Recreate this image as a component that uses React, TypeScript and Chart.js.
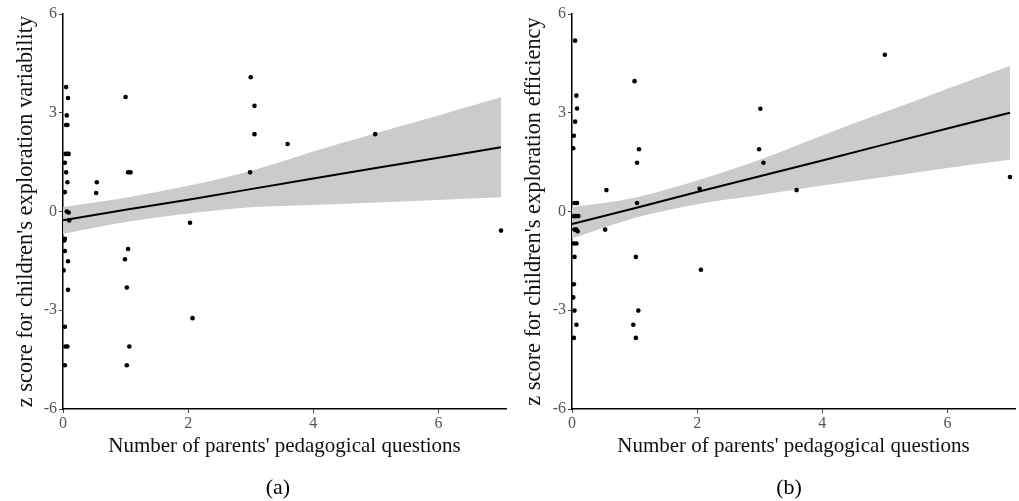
import React, { useEffect, useRef } from "react";
import { Chart, registerables } from "chart.js";

Chart.register(...registerables);

// ---- Panel (a): exploration variability ----
const xA = [0.05, 0.08, 0.06, 0.05, 0.07, 0.04, 0.07, 0.09, 0.03, 0.05, 0.07, 0.03, 0.06, 0.09, 0.1, 0.03, 0.02, 0.03, 0.08, 0.01, 0.08, 0.03, 0.04, 0.07, 0.03,
  0.54, 0.53, 1.0, 1.04, 1.08, 1.04, 0.99, 1.02, 1.06, 1.02, 2.03, 2.07, 3.0, 3.06, 3.06, 2.99, 3.59, 4.99, 7.0];
const yA = [3.78, 3.45, 2.92, 2.63, 2.63, 1.75, 1.75, 1.75, 1.48, 1.19, 0.89, 0.59, 0.0, -0.03, -0.27, -0.83, -0.88, -1.2, -1.51, -1.79, -2.38, -3.5, -4.1, -4.1, -4.67,
  0.89, 0.56, 3.48, 1.19, 1.19, -1.14, -1.45, -2.31, -4.1, -4.67, -0.34, -3.24, 4.08, 3.21, 2.35, 1.19, 2.05, 2.35, -0.58];
const fitX = [0, 1, 2, 3, 4, 5, 6, 7];
const fitA = [-0.27, 0.05, 0.36, 0.68, 1.0, 1.32, 1.63, 1.95];
const upperA = [0.14, 0.42, 0.78, 1.23, 1.82, 2.38, 2.92, 3.47];
const lowerA = [-0.68, -0.32, -0.06, 0.13, 0.2, 0.27, 0.35, 0.43];

// ---- Panel (b): exploration efficiency ----
const xB = [0.05, 0.07, 0.08, 0.05, 0.03, 0.02, 0.04, 0.08, 0.03, 0.06, 0.1, 0.04, 0.07, 0.09, 0.03, 0.07, 0.04, 0.03, 0.02, 0.04, 0.07, 0.03,
  0.55, 0.53, 1.0, 1.07, 1.04, 1.04, 1.02, 1.06, 0.98, 1.02, 2.04, 2.06, 3.01, 2.99, 3.06, 3.59, 5.0, 7.0];
const yB = [5.19, 3.52, 3.13, 2.73, 2.3, 1.92, 0.26, 0.26, -0.14, -0.14, -0.14, -0.55, -0.55, -0.6, -0.97, -0.97, -1.38, -2.21, -2.61, -3.01, -3.44, -3.84,
  0.65, -0.55, 3.96, 1.89, 1.48, 0.26, -1.38, -3.01, -3.44, -3.84, 0.69, -1.77, 3.12, 1.89, 1.48, 0.65, 4.76, 1.05];
const fitB = [-0.38, 0.1, 0.59, 1.07, 1.55, 2.04, 2.52, 3.0];
const upperB = [0.13, 0.42, 0.94, 1.57, 2.31, 3.02, 3.73, 4.42];
const lowerB = [-0.82, -0.2, 0.22, 0.5, 0.79, 1.05, 1.32, 1.57];

const yTicks = [-6, -3, 0, 3, 6];
const xTicks = [0, 2, 4, 6];
const xTitle = "Number of parents' pedagogical questions";

const SERIF = "'Liberation Serif', 'Times New Roman', serif";

type PanelProps = {
  xs: number[];
  ys: number[];
  fit: number[];
  upper: number[];
  lower: number[];
  yTitle: string;
  width: number;
  yAxisWidth: number;
};

function Panel({ xs, ys, fit, upper, lower, yTitle, width, yAxisWidth }: PanelProps) {
  const ref = useRef<HTMLCanvasElement | null>(null);
  useEffect(() => {
    if (!ref.current) return;
    const pts = xs.map((x, i) => ({ x, y: ys[i] }));
    const toXY = (arr: number[]) => fitX.map((x, i) => ({ x, y: arr[i] }));
    const chart = new Chart(ref.current, {
      type: "scatter",
      data: {
        datasets: [
          {
            data: pts,
            backgroundColor: "#000",
            borderColor: "#000",
            pointRadius: 2.3,
            pointBorderWidth: 0,
            showLine: false,
          },
          {
            type: "line",
            data: toXY(fit),
            borderColor: "#000",
            borderWidth: 2,
            pointRadius: 0,
            fill: false,
          },
          {
            type: "line",
            data: toXY(upper),
            borderWidth: 0,
            borderColor: "rgba(0,0,0,0)",
            backgroundColor: "#cbcbcb",
            pointRadius: 0,
            fill: "+1",
            cubicInterpolationMode: "monotone",
          },
          {
            type: "line",
            data: toXY(lower),
            borderWidth: 0,
            borderColor: "rgba(0,0,0,0)",
            backgroundColor: "#cbcbcb",
            pointRadius: 0,
            fill: false,
            cubicInterpolationMode: "monotone",
          },
        ] as any,
      },
      options: {
        responsive: false,
        animation: false,
        events: [],
        layout: { padding: { left: 0, right: 3, top: 14, bottom: 0 } },
        plugins: {
          legend: { display: false },
          tooltip: { enabled: false },
          title: { display: false },
        },
        scales: {
          x: {
            type: "linear",
            min: 0,
            max: 7.08,
            afterBuildTicks: (s: any) => {
              s.ticks = xTicks.map((v) => ({ value: v }));
            },
            afterFit: (s: any) => {
              s.height = 92;
            },
            ticks: {
              color: "#555",
              font: { family: SERIF, size: 16 },
              padding: 1,
              maxRotation: 0,
            },
            grid: { drawOnChartArea: false, tickLength: 4, color: "#444", lineWidth: 1 },
            border: { display: true, color: "#000", width: 1.5 },
            title: {
              display: true,
              text: xTitle,
              color: "#111",
              font: { family: SERIF, size: 21 },
              padding: { top: 0, bottom: 42 },
            },
          },
          y: {
            type: "linear",
            min: -6,
            max: 6,
            afterBuildTicks: (s: any) => {
              s.ticks = yTicks.map((v) => ({ value: v }));
            },
            afterFit: (s: any) => {
              s.width = yAxisWidth;
            },
            ticks: {
              color: "#555",
              font: { family: SERIF, size: 16 },
              padding: 2,
            },
            grid: { drawOnChartArea: false, tickLength: 4, color: "#444", lineWidth: 1 },
            border: { display: true, color: "#000", width: 1.5 },
            title: {
              display: true,
              text: yTitle,
              color: "#111",
              font: { family: SERIF, size: 22.4 },
              padding: { top: 12.5, bottom: 0 },
            },
          },
        },
      } as any,
    });
    return () => chart.destroy();
  }, []);
  return <canvas ref={ref} width={width} height={501} style={{ display: "block", width, height: 501 }} />;
}

const labelStyle = (cx: number): React.CSSProperties => ({
  position: "absolute",
  left: cx - 40,
  width: 80,
  top: 474,
  textAlign: "center",
  fontFamily: SERIF,
  fontSize: 22,
  lineHeight: "26px",
  color: "#000",
});

export default function App() {
  return (
    <div style={{ position: "absolute", left: 0, top: 0, width: 1019, height: 501, background: "#fff" }}>
      <div style={{ position: "absolute", left: 0, top: 0 }}>
        <Panel xs={xA} ys={yA} fit={fitA} upper={upperA} lower={lowerA}
          yTitle="z score for children's exploration variability" width={510} yAxisWidth={63} />
      </div>
      <div style={{ position: "absolute", left: 508, top: 0 }}>
        <Panel xs={xB} ys={yB} fit={fitB} upper={upperB} lower={lowerB}
          yTitle="z score for children's exploration efficiency" width={511} yAxisWidth={64} />
      </div>
      <div style={labelStyle(278)}>(a)</div>
      <div style={labelStyle(789)}>(b)</div>
    </div>
  );
}
